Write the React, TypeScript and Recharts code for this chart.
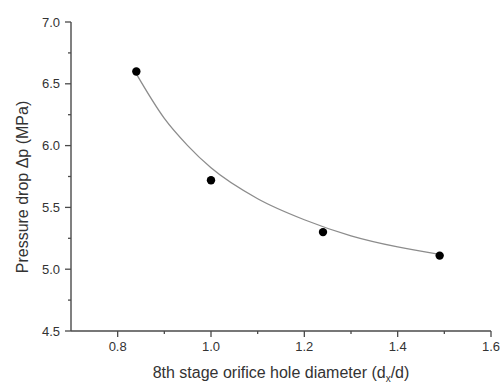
import { ComposedChart, Line, Scatter, XAxis, YAxis } from 'recharts';

// measured points
const pointX = [0.84, 1.0, 1.24, 1.49];
const pointY = [6.6, 5.72, 5.3, 5.11];

// fitted curve
const fitX = [0.84, 0.9, 0.95, 1.0, 1.1, 1.2, 1.3, 1.4, 1.49];
const fitY = [6.58, 6.22, 6.0, 5.82, 5.57, 5.4, 5.27, 5.18, 5.12];

const xMajor = [0.8, 1.0, 1.2, 1.4, 1.6];
const xMinor = [0.9, 1.1, 1.3, 1.5];
const yMajor = [4.5, 5.0, 5.5, 6.0, 6.5, 7.0];
const yMinor = [4.75, 5.25, 5.75, 6.25, 6.75];

const points = pointX.map((x, i) => ({ x, y: pointY[i] }));
const fit = fitX.map((x, i) => ({ x, y: fitY[i] }));

const AXIS = '#4a4a4a';
const TEXT = '#333';
const FONT = '"Liberation Sans", Arial, sans-serif';

const isMajor = (list: number[], v: number) => list.some((m) => Math.abs(m - v) < 1e-6);

// tickSize 6 + tickMargin 5 => the axis line sits 11px from the label anchor
function YTick(props: any) {
  const { x, y, payload } = props;
  const axisX = x + 11;
  const major = isMajor(yMajor, payload.value);
  return (
    <g>
      <line x1={axisX - (major ? 6 : 3)} x2={axisX} y1={y} y2={y} stroke={AXIS} strokeWidth={1.3} />
      {major && (
        <text x={x} y={y} dy="0.36em" textAnchor="end" fontSize={13} fill={TEXT} fontFamily={FONT}>
          {payload.value.toFixed(1)}
        </text>
      )}
    </g>
  );
}

function XTick(props: any) {
  const { x, y, payload } = props;
  const axisY = y - 11;
  const major = isMajor(xMajor, payload.value);
  return (
    <g>
      <line x1={x} x2={x} y1={axisY} y2={axisY + (major ? 6 : 3)} stroke={AXIS} strokeWidth={1.3} />
      {major && (
        <text x={x} y={y} dy="0.72em" textAnchor="middle" fontSize={13} fill={TEXT} fontFamily={FONT}>
          {payload.value.toFixed(1)}
        </text>
      )}
    </g>
  );
}

export default function App() {
  return (
    <div style={{ position: 'absolute', left: 0, top: 0, width: 501, height: 383, background: '#fff' }}>
      <ComposedChart width={501} height={383} margin={{ top: 22, right: 10, left: 0, bottom: 0 }}>
        <XAxis
          type="number"
          dataKey="x"
          domain={[0.7, 1.6]}
          ticks={[...xMajor, ...xMinor].sort((a, b) => a - b)}
          interval={0}
          height={52}
          stroke={AXIS}
          strokeWidth={1.4}
          tickLine={false}
          tickSize={6}
          tickMargin={5}
          tick={<XTick />}
          allowDataOverflow
          label={{
            content: () => (
              <text x={281} y={378} textAnchor="middle" fontSize={16} fill={TEXT} fontFamily={FONT}>
                8th stage orifice hole diameter (d
                <tspan fontSize={10} dy={4}>x</tspan>
                <tspan dy={-4}>/d)</tspan>
              </text>
            ),
          }}
        />
        <YAxis
          type="number"
          dataKey="y"
          domain={[4.5, 7.0]}
          ticks={[...yMajor, ...yMinor].sort((a, b) => a - b)}
          interval={0}
          width={71}
          stroke={AXIS}
          strokeWidth={1.4}
          tickLine={false}
          tickSize={6}
          tickMargin={5}
          tick={<YTick />}
          allowDataOverflow
          label={{
            content: () => (
              <text
                x={28}
                y={187}
                transform="rotate(-90 28 187)"
                textAnchor="middle"
                fontSize={16}
                fill={TEXT}
                fontFamily={FONT}
              >
                Pressure drop Δp (MPa)
              </text>
            ),
          }}
        />
        <Line
          data={fit}
          dataKey="y"
          type="monotone"
          stroke="#8c8c8c"
          strokeWidth={1.3}
          dot={false}
          activeDot={false}
          isAnimationActive={false}
        />
        <Scatter
          data={points}
          dataKey="y"
          fill="#000"
          shape={(p: any) => <circle cx={p.cx} cy={p.cy} r={4.2} fill="#000" />}
          isAnimationActive={false}
        />
      </ComposedChart>
    </div>
  );
}
